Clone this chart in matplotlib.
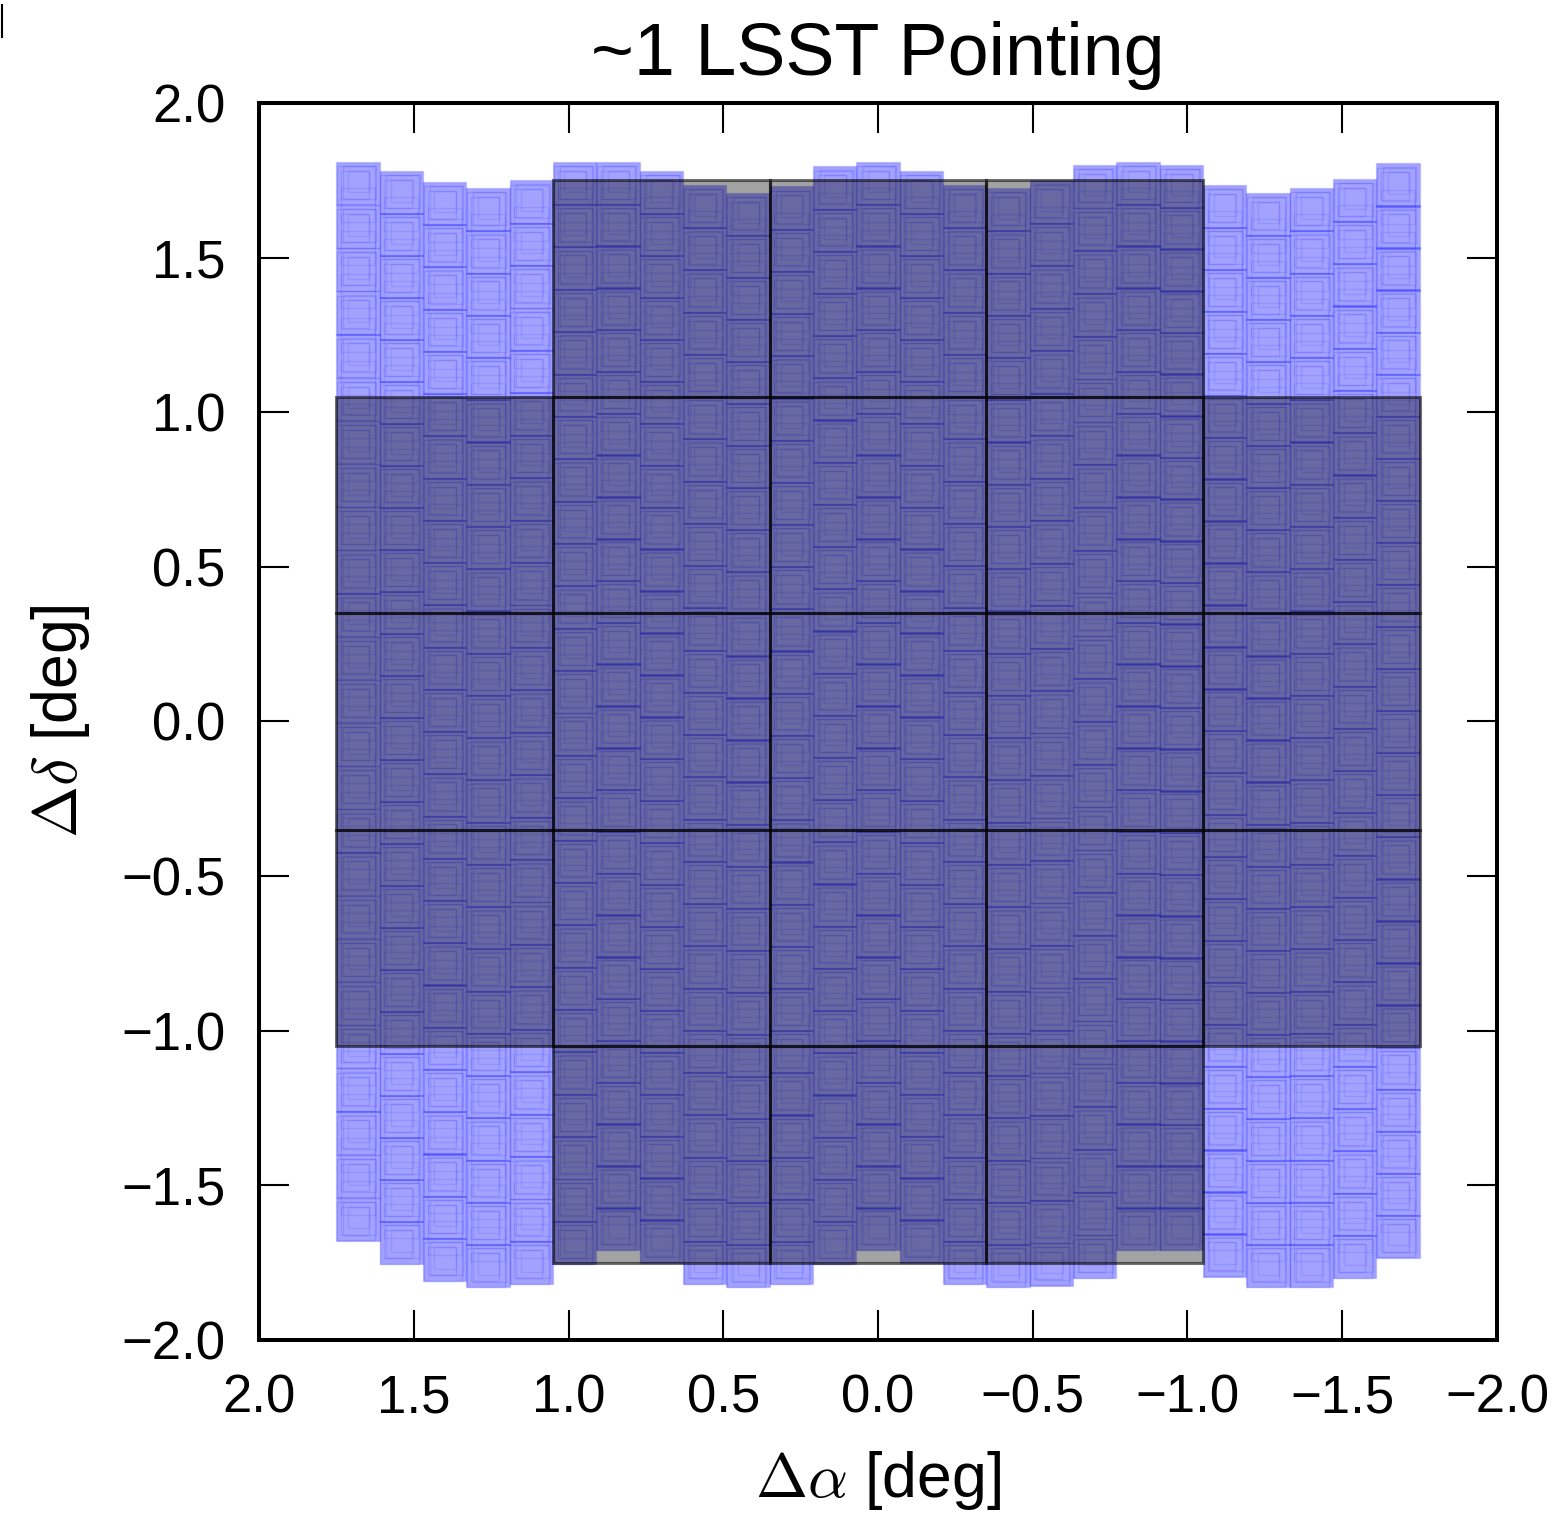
import numpy as np
import matplotlib
import matplotlib.pyplot as plt
from matplotlib.patches import Rectangle
from matplotlib.collections import PatchCollection
from matplotlib.lines import Line2D

matplotlib.use('Agg')

plt.rcParams['font.family'] = ['Liberation Sans', 'DejaVu Sans']
plt.rcParams['mathtext.fontset'] = 'cm'

# raft centres of the focal plane [deg] (5x5 grid without the corner rafts)
raft_x = [0.7, 0.0, -0.7,
          1.4, 0.7, 0.0, -0.7, -1.4,
          1.4, 0.7, 0.0, -0.7, -1.4,
          1.4, 0.7, 0.0, -0.7, -1.4,
          0.7, 0.0, -0.7]
raft_y = [1.4, 1.4, 1.4,
          0.7, 0.7, 0.7, 0.7, 0.7,
          0.0, 0.0, 0.0, 0.0, 0.0,
          -0.7, -0.7, -0.7, -0.7, -0.7,
          -1.4, -1.4, -1.4]
raft_size = 0.7

# dithered coverage, read column by column (0.14 deg wide columns)
col_x = [1.68, 1.54, 1.40, 1.26, 1.12, 0.98, 0.84, 0.70, 0.56, 0.42, 0.28, 0.14, 0.00,
         -0.14, -0.28, -0.42, -0.56, -0.70, -0.84, -0.98, -1.12, -1.26, -1.40, -1.54, -1.68]
col_top = [1.81, 1.78, 1.745, 1.725, 1.75, 1.81, 1.81, 1.78, 1.735, 1.71, 1.73, 1.795, 1.81,
           1.78, 1.735, 1.725, 1.75, 1.80, 1.81, 1.80, 1.735, 1.71, 1.725, 1.755, 1.805]
col_bottom = [-1.68, -1.755, -1.81, -1.83, -1.82, -1.755, -1.71, -1.75, -1.82, -1.83, -1.82, -1.755, -1.71,
              -1.75, -1.82, -1.83, -1.825, -1.80, -1.71, -1.71, -1.795, -1.83, -1.83, -1.80, -1.735]
cell = 0.14

ticks = [-2.0, -1.5, -1.0, -0.5, 0.0, 0.5, 1.0, 1.5, 2.0]

# nested copies of every square: (size, dx, dy, face alpha, edge alpha)
layers = [(0.140, 0.000, 0.000, 0.36, 0.12),
          (0.124, 0.006, -0.006, 0.0, 0.13),
          (0.108, -0.005, 0.003, 0.0, 0.11),
          (0.090, 0.010, -0.004, 0.0, 0.11),
          (0.070, -0.002, 0.006, 0.0, 0.09)]

fig = plt.figure(figsize=(15.55, 15.17), dpi=100)
ax = fig.add_axes([0.16656, 0.11668, 0.79614, 0.81543])

# blue dithered squares
for size, dx, dy, fa, ea in layers:
    rects = []
    for x, top, bot in zip(col_x, col_top, col_bottom):
        n = int(np.ceil((top - bot) / cell - 1e-6))
        ys = np.linspace(bot + cell / 2, top - cell / 2, n)
        for y in ys:
            rects.append(Rectangle((x + dx - size / 2, y + dy - size / 2), size, size))
    ax.add_collection(PatchCollection(rects, facecolor=(0, 0, 1, fa), edgecolor=(0, 0, 1, ea),
                                      linewidth=1.0, zorder=1))

# staggered mesh, half a cell off, edges only
mesh = []
for x, top, bot in zip(col_x, col_top, col_bottom):
    n = int(np.ceil((top - bot) / cell - 1e-6))
    ys = np.linspace(bot + cell, top - cell, n - 1)
    for y in ys:
        mesh.append(Rectangle((x - 0.055, y - 0.055), 0.11, 0.11))
ax.add_collection(PatchCollection(mesh, facecolor='none', edgecolor=(0, 0, 1, 0.09),
                                  linewidth=1.0, zorder=1))

# grey rafts
for rx, ry in zip(raft_x, raft_y):
    ax.add_patch(Rectangle((rx - raft_size / 2, ry - raft_size / 2), raft_size, raft_size,
                           facecolor=(0, 0, 0, 0.36), edgecolor=(0, 0, 0, 0.55),
                           linewidth=2.2, zorder=2))

ax.set_xlim(2, -2)
ax.set_ylim(-2, 2)
ax.set_xticks(ticks)
ax.set_yticks(ticks)
ax.tick_params(direction='in', length=21.6, width=1.5, top=True, right=True,
               labelsize=38, pad=24)
for sp in ax.spines.values():
    sp.set_linewidth(2.9)

ax.set_title('~1 LSST Pointing', fontsize=53, pad=20)
ax.set_xlabel(r'$\Delta\alpha$ [deg]', fontsize=45)
ax.set_ylabel(r'$\Delta\delta$ [deg]', fontsize=45)
ax.xaxis.set_label_coords(0.5, -0.088)
ax.yaxis.set_label_coords(-0.135, 0.5)

# stray mark at the top left corner of the original figure
fig.add_artist(Line2D([0.0015, 0.0015], [1 - 5 / 1517, 1 - 37 / 1517], color='k', linewidth=1.5))

fig.savefig('out.png', dpi=100)
